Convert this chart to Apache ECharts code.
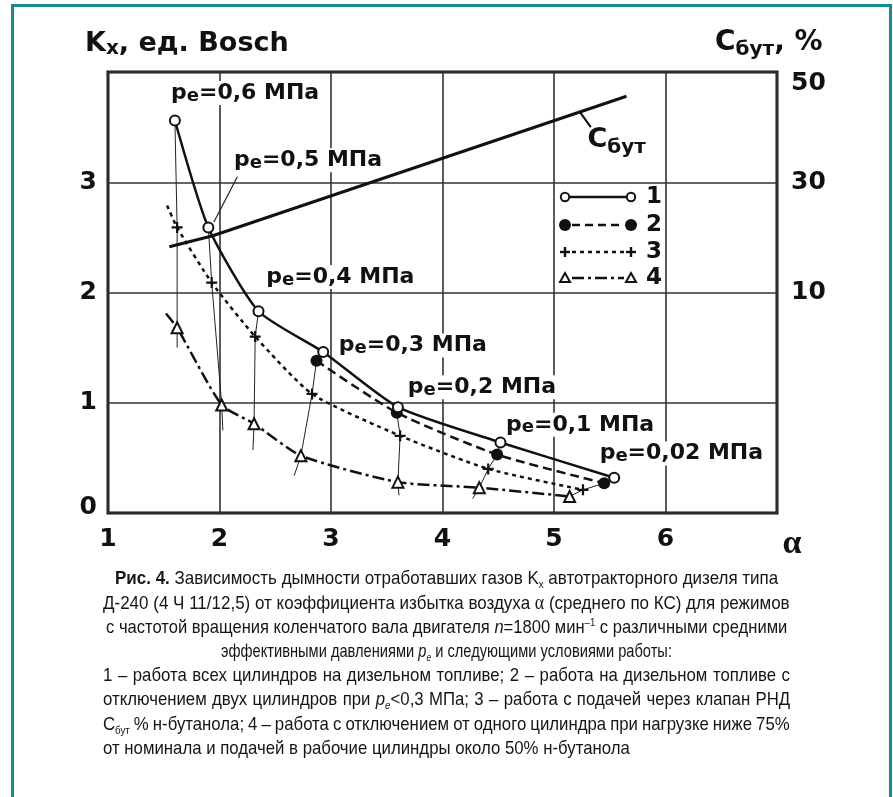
<!DOCTYPE html>
<html><head><meta charset="utf-8">
<script src="https://cdn.jsdelivr.net/npm/echarts@6/dist/echarts.min.js"></script>
<style>
html,body{margin:0;padding:0;background:#fff;}
#wrap{position:relative;width:893px;height:797px;overflow:hidden;background:#fff}
#chart{position:absolute;left:0;top:0;width:893px;height:797px;}
#frame{position:absolute;left:11px;top:4px;width:881px;height:830px;border:3px solid #168a8f;border-bottom:none;box-sizing:border-box;pointer-events:none}
#caption{position:absolute;left:103px;top:566px;width:687px;font-family:'Liberation Sans',Arial,sans-serif;font-size:19px;line-height:24.3px;color:#151515}
#caption > div{height:24.3px;white-space:nowrap;text-align:left}
#caption .t{display:inline-block;white-space:nowrap;transform-origin:0 50%}
#caption sub{font-size:11px;line-height:0;vertical-align:-4px}
#caption sup{font-size:11px;line-height:0;vertical-align:7px}
.al{font-family:'Liberation Serif',serif;font-size:20px}
</style></head>
<body>
<div id="wrap">
<div id="chart"></div>
<div id="frame"></div>
<div id="caption">
<div class="c" data-w="663"><span class="t"><b>Рис. 4.</b> Зависимость дымности отработавших газов K<sub>х</sub> автотракторного дизеля типа</span></div>
<div class="c" data-w="687"><span class="t">Д-240 (4 Ч 11/12,5) от коэффициента избытка воздуха <span class="al">α</span> (среднего по КС) для режимов</span></div>
<div class="c" data-w="681"><span class="t">с частотой вращения коленчатого вала двигателя <i>n</i>=1800 мин<sup>–1</sup> с различными средними</span></div>
<div class="c" data-w="451"><span class="t">эффективными давлениями <i>p<sub>е</sub></i> и следующими условиями работы:</span></div>
<div class="j"><span class="t">1 – работа всех цилиндров на дизельном топливе; 2 – работа на дизельном топливе с</span></div>
<div class="j"><span class="t">отключением двух цилиндров при <i>p<sub>е</sub></i>&lt;0,3 МПа; 3 – работа с подачей через клапан РНД</span></div>
<div class="j"><span class="t">С<sub>бут</sub> % н-бутанола; 4 – работа с отключением от одного цилиндра при нагрузке ниже 75%</span></div>
<div class="l"><span class="t">от номинала и подачей в рабочие цилиндры около 50% н-бутанола</span></div>
</div>
</div>
<script>
// ---------- data ----------
const xTickValues = [1, 2, 3, 4, 5, 6];
const leftTickLabels = ['0', '1', '2', '3'];
const rightTickLabels = ['10', '30', '50'];
const peValues = ['0,6', '0,5', '0,4', '0,3', '0,2', '0,1', '0,02'];

// series 1: all cylinders, diesel fuel (pe = 0.6 ... 0.02)
const alpha1 = [1.60, 1.90, 2.35, 2.93, 3.60, 4.52, 5.54];
const kx1    = [3.56, 2.59, 1.83, 1.46, 0.96, 0.64, 0.32];
// series 2: two cylinders off (pe = 0.3 ... 0.02)
const alpha2 = [2.87, 3.59, 4.49, 5.45];
const kx2    = [1.38, 0.91, 0.53, 0.27];
// series 3: n-butanol through valve (first value = curve start, no marker)
const alpha3 = [1.53, 1.62, 1.93, 2.32, 2.83, 3.62, 4.41, 5.26];
const kx3    = [2.79, 2.59, 2.09, 1.60, 1.08, 0.70, 0.40, 0.21];
// series 4: one cylinder off + ~50% n-butanol (first value = curve start, no marker)
const alpha4 = [1.52, 1.62, 2.02, 2.31, 2.73, 3.60, 4.33, 5.14];
const kx4    = [1.81, 1.68, 0.98, 0.81, 0.52, 0.28, 0.23, 0.15];
// C_but, % (right axis)
const alphaC = [1.55, 1.94, 5.65];
const cBut   = [18.3, 20.3, 45.6];

// thin iso-pe connecting lines (alpha, Kx), top to bottom, incl. short tails
const isoAlpha = [
  [1.60, 1.62, 1.62, 1.62],
  [1.90, 1.93, 2.02, 2.03],
  [2.35, 2.32, 2.31, 2.30],
  [2.93, 2.87, 2.83, 2.73, 2.67],
  [3.60, 3.59, 3.62, 3.60, 3.61],
  [4.52, 4.49, 4.41, 4.33, 4.27],
  [5.54, 5.45, 5.26, 5.14]
];
const isoKx = [
  [3.56, 2.59, 1.68, 1.50],
  [2.59, 2.09, 0.98, 0.75],
  [1.83, 1.60, 0.81, 0.57],
  [1.46, 1.38, 1.08, 0.52, 0.34],
  [0.96, 0.91, 0.70, 0.28, 0.16],
  [0.64, 0.53, 0.40, 0.23, 0.13],
  [0.32, 0.27, 0.21, 0.15]
];

// ---------- annotation anchors (data coordinates) ----------
const peLabelAt = [[1.556, 3.81], [2.12, 3.20], [2.41, 2.14], [3.06, 1.52], [3.68, 1.14], [4.56, 0.80], [5.40, 0.54]];
const leader05 = [[2.16, 3.05], [1.95, 2.64]];
const cLabelAt = [[5.30, 3.38]];
const cLeader = [[5.23, 3.64], [5.33, 3.50]];

// ---------- caption fitting (condensed; centred / justified lines) ----------
function fitCaption() {
  const divs = Array.from(document.querySelectorAll('#caption > div'));
  const spans = divs.map(d => d.querySelector('.t'));
  spans.forEach(s => { s.style.transform = 'none'; s.style.wordSpacing = '0px'; });
  const W = 687;
  const scales = [];
  divs.forEach((d, i) => { if (d.dataset.w) scales.push(+d.dataset.w / spans[i].offsetWidth); });
  scales.sort((a, b) => a - b);
  const sBase = (scales[1] + scales[2]) / 2;
  divs.forEach((d, i) => {
    const sp = spans[i];
    let tx = 0, s = sBase;
    if (d.classList.contains('j')) {
      const n = (sp.textContent.match(/ /g) || []).length;
      sp.style.wordSpacing = ((W / s - sp.offsetWidth) / n) + 'px';
    } else if (d.classList.contains('c')) {
      s = +d.dataset.w / sp.offsetWidth;
      tx = (W - sp.offsetWidth * s) / 2;
    }
    sp.style.transform = 'translateX(' + tx + 'px) scaleX(' + s + ')';
  });
}
fitCaption();
if (document.fonts && document.fonts.ready) document.fonts.ready.then(fitCaption);

// ---------- chart ----------
const FONT = 'DejaVu Sans';
const INK = '#111';
const zip = (a, b) => a.map((v, i) => [v, b[i]]);
const plusPath = 'path://M4,0L6,0L6,4L10,4L10,6L6,6L6,10L4,10L4,6L0,6L0,4L4,4Z';

const chart = echarts.init(document.getElementById('chart'));

const isoSeries = isoAlpha.map((a, i) => ({
  type: 'line', data: zip(a, isoKx[i]), symbol: 'none', silent: true, z: 1,
  lineStyle: { color: '#222', width: 1 }
}));

const tickFont = { fontFamily: FONT, fontWeight: 'bold', fontSize: 25, color: INK };

// legend glyphs (decoration)
const LX1 = 565, LX2 = 631, rows = [197, 225, 252, 278];
function plusGlyph(cx, cy) {
  return [
    { type: 'rect', shape: { x: cx - 5, y: cy - 1.2, width: 10, height: 2.4 }, style: { fill: INK } },
    { type: 'rect', shape: { x: cx - 1.2, y: cy - 5, width: 2.4, height: 10 }, style: { fill: INK } }
  ];
}
function triGlyph(cx, cy) {
  return { type: 'polygon', shape: { points: [[cx, cy - 5], [cx + 5, cy + 4], [cx - 5, cy + 4]] }, style: { fill: '#fff', stroke: INK, lineWidth: 2 } };
}
const legendGraphic = [
  { type: 'line', shape: { x1: LX1 + 5, y1: rows[0], x2: LX2 - 5, y2: rows[0] }, style: { stroke: INK, lineWidth: 2.5 } },
  { type: 'circle', shape: { cx: LX1, cy: rows[0], r: 4.2 }, style: { fill: '#fff', stroke: INK, lineWidth: 2 } },
  { type: 'circle', shape: { cx: LX2, cy: rows[0], r: 4.2 }, style: { fill: '#fff', stroke: INK, lineWidth: 2 } },
  { type: 'line', shape: { x1: LX1 + 7, y1: rows[1], x2: LX2 - 7, y2: rows[1] }, style: { stroke: INK, lineWidth: 2.5, lineDash: [8, 5] } },
  { type: 'circle', shape: { cx: LX1, cy: rows[1], r: 6 }, style: { fill: INK } },
  { type: 'circle', shape: { cx: LX2, cy: rows[1], r: 6 }, style: { fill: INK } },
  { type: 'line', shape: { x1: LX1 + 7, y1: rows[2], x2: LX2 - 7, y2: rows[2] }, style: { stroke: INK, lineWidth: 2.5, lineDash: [4, 4] } },
  ...plusGlyph(LX1, rows[2]), ...plusGlyph(LX2, rows[2]),
  { type: 'line', shape: { x1: LX1 + 7, y1: rows[3], x2: LX2 - 7, y2: rows[3] }, style: { stroke: INK, lineWidth: 2.5, lineDash: [12, 4, 3, 4] } },
  triGlyph(LX1, rows[3]), triGlyph(LX2, rows[3]),
  ...['1', '2', '3', '4'].map((t, i) => ({
    type: 'text', style: { text: t, x: 646, y: rows[i], textVerticalAlign: 'middle', fill: INK, font: 'bold 23px "DejaVu Sans"' }
  }))
];

const labelBase = { show: true, position: 'right', distance: 0, opacity: 1 };

const option = {
  animation: false,
  backgroundColor: 'transparent',
  title: [
    { text: 'K{s|x}, ед. Bosch', left: 80, top: 24,
      textStyle: { fontFamily: FONT, fontWeight: 'bold', fontSize: 27, color: INK,
        rich: { s: { fontFamily: FONT, fontWeight: 'bold', fontSize: 20, color: INK, padding: [10, 0, 0, 0] } } } },
    { text: 'C{s|бут}, %', left: 710, top: 21,
      textStyle: { fontFamily: FONT, fontWeight: 'bold', fontSize: 28, color: INK,
        rich: { s: { fontFamily: FONT, fontWeight: 'bold', fontSize: 20, color: INK, padding: [14, 0, 0, 0] } } } }
  ],
  grid: { left: 108, right: 116, top: 72, bottom: 284, show: true, borderColor: INK, borderWidth: 3, backgroundColor: 'transparent' },
  xAxis: {
    type: 'value', min: 1, max: 7, interval: 1,
    axisLine: { show: false }, axisTick: { show: false },
    splitLine: { show: true, lineStyle: { color: '#333', width: 1.6 } },
    axisLabel: Object.assign({}, tickFont, {
      margin: 14, showMaxLabel: true,
      formatter: v => xTickValues.includes(v) ? String(v) : '{a|α}',
      rich: { a: { fontFamily: 'Liberation Serif', fontSize: 34, color: INK, padding: [0, 0, 8, 30] } }
    })
  },
  yAxis: [
    { type: 'value', min: 0, max: 4, interval: 1,
      axisLine: { show: false }, axisTick: { show: false },
      splitLine: { show: true, lineStyle: { color: '#333', width: 1.6 } },
      axisLabel: Object.assign({}, tickFont, {
        margin: 11,
        formatter: v => v === 0 ? '{z|0}' : (leftTickLabels.includes(String(v)) ? String(v) : ''),
        rich: { z: { fontFamily: FONT, fontWeight: 'bold', fontSize: 25, color: INK, padding: [0, 0, 12, 0] } }
      }) },
    { type: 'value', min: -30, max: 50, interval: 10, position: 'right',
      axisLine: { show: false }, axisTick: { show: false }, splitLine: { show: false },
      axisLabel: Object.assign({}, tickFont, {
        margin: 14, showMaxLabel: true,
        formatter: v => v === 50 ? '{t|50}' : (rightTickLabels.includes(String(v)) ? String(v) : ''),
        rich: { t: { fontFamily: FONT, fontWeight: 'bold', fontSize: 25, color: INK, padding: [22, 0, 0, 0] } }
      }) }
  ],
  graphic: legendGraphic,
  series: [
    ...isoSeries,
    { type: 'line', data: leader05, symbol: 'none', silent: true, z: 1, lineStyle: { color: '#222', width: 1.2 } },
    { type: 'line', data: cLeader, symbol: 'none', silent: true, z: 1, lineStyle: { color: INK, width: 2 } },
    { name: 'Cбут', type: 'line', yAxisIndex: 1, data: zip(alphaC, cBut), symbol: 'none', z: 2,
      lineStyle: { color: INK, width: 3 } },
    { name: '4', type: 'line', data: zip(alpha4, kx4).map((p, i) => i === 0 ? { value: p, symbol: 'none' } : p),
      smooth: 0.2, symbol: 'emptyTriangle', symbolSize: 11, z: 3,
      lineStyle: { color: INK, width: 2.5, type: [12, 4, 3, 4] }, itemStyle: { color: INK, borderWidth: 2 } },
    { name: '3', type: 'line', data: zip(alpha3, kx3).map((p, i) => i === 0 ? { value: p, symbol: 'none' } : p),
      smooth: 0.2, symbol: plusPath, symbolSize: 11, z: 4,
      lineStyle: { color: INK, width: 2.5, type: [4, 4] }, itemStyle: { color: INK } },
    { name: '2', type: 'line', data: zip(alpha2, kx2), smooth: 0.2,
      symbol: 'circle', symbolSize: 12, z: 5,
      lineStyle: { color: INK, width: 2.5, type: [9, 5] }, itemStyle: { color: INK } },
    { name: '1', type: 'line', data: zip(alpha1, kx1), smooth: 0.2,
      symbol: 'emptyCircle', symbolSize: 10, z: 6,
      lineStyle: { color: INK, width: 2.5 }, itemStyle: { color: INK, borderWidth: 2 } },
    { type: 'scatter', data: peLabelAt, symbolSize: 0.1, silent: true, z: 10,
      itemStyle: { color: 'transparent', opacity: 1 },
      label: Object.assign({}, labelBase, {
        formatter: p => 'p{e|e}=' + peValues[p.dataIndex] + ' МПа',
        fontFamily: FONT, fontWeight: 'bold', fontSize: 22, color: INK, backgroundColor: '#fff', padding: [0, 1],
        rich: { e: { fontFamily: FONT, fontWeight: 'bold', fontSize: 18, color: INK, padding: [6, 0, 0, 0] } } }) },
    { type: 'scatter', data: cLabelAt, symbolSize: 0.1, silent: true, z: 10,
      itemStyle: { color: 'transparent', opacity: 1 },
      label: Object.assign({}, labelBase, { formatter: 'C{s|бут}',
        fontFamily: FONT, fontWeight: 'bold', fontSize: 27, color: INK,
        rich: { s: { fontFamily: FONT, fontWeight: 'bold', fontSize: 20, color: INK, padding: [14, 0, 0, 0] } } }) }
  ]
};
chart.setOption(option);
</script>
</body></html>
